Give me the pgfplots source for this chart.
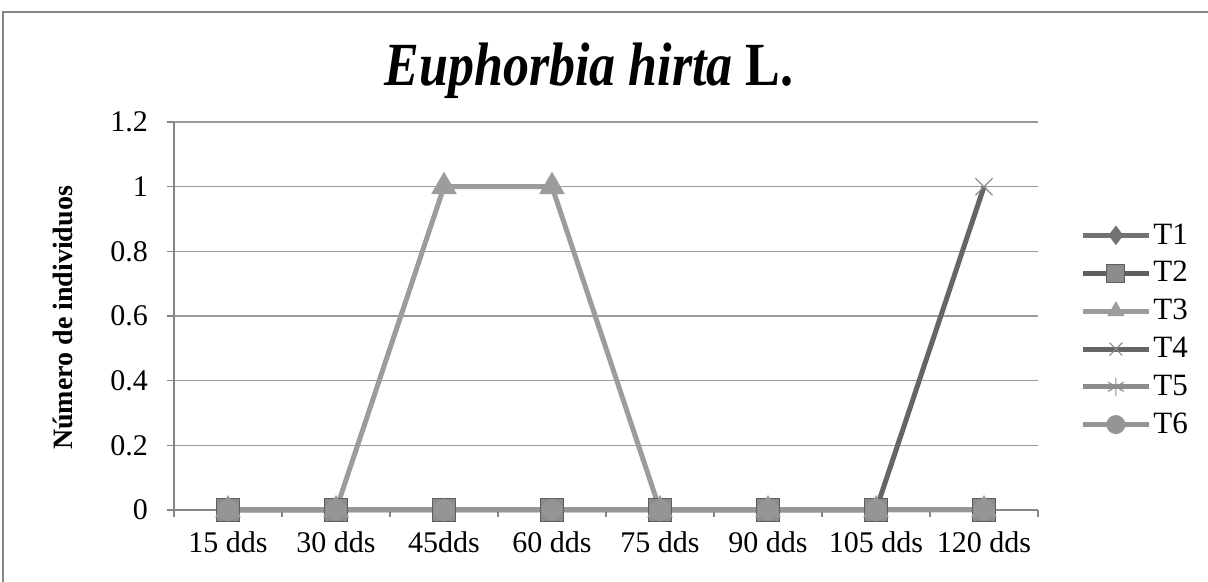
\documentclass[border=0pt]{standalone}
\usepackage{fontspec}
\setmainfont{Liberation Serif}
\usepackage{pgfplots}
\pgfplotsset{compat=1.18}
\definecolor{gridc}{HTML}{9A9A9A}
\definecolor{axc}{HTML}{868686}
\definecolor{cA}{HTML}{727272}
\definecolor{cB}{HTML}{5E5E5E}
\definecolor{cC}{HTML}{9C9C9C}
\definecolor{cD}{HTML}{656565}
\definecolor{cE}{HTML}{8C8C8C}
\definecolor{cF}{HTML}{959595}
\begin{document}
\begin{tikzpicture}
\useasboundingbox (-87pt,-36pt) rectangle (517pt,255pt);
\begin{axis}[
  at={(0pt,0pt)}, anchor=south west,
  scale only axis, width=432pt, height=194pt,
  xmin=-0.5, xmax=7.5, ymin=0, ymax=1.2,
  axis x line*=bottom, axis y line*=left,
  axis line style={axc, line width=0.8pt, -},
  xtick={0,...,7},
  xticklabels={15 dds,30 dds,45dds,60 dds,75 dds,90 dds,105 dds,120 dds},
  major x tick style={draw=none},
  minor xtick={-0.5,0.5,...,7.5},
  minor x tick style={axc, line width=0.8pt},
  minor tick length=3.5pt,
  ytick={0,0.2,0.4,0.6,0.8,1,1.2},
  yticklabels={0,0.2,0.4,0.6,0.8,1,1.2},
  y tick style={axc, line width=0.8pt},
  major tick length=3.5pt,
  tick align=outside,
  ymajorgrids, grid style={gridc, line width=0.8pt},
  ticklabel style={font=\fontsize{15}{17}\selectfont},
  xticklabel style={yshift=-4pt},
  yticklabel style={xshift=-6pt},
  ylabel={\textbf{Número de individuos}},
  ylabel style={font=\fontsize{14}{16}\selectfont, at={(-55.5pt,96pt)}, anchor=center, rotate=0},
  legend style={draw=none, fill=none, at={(1.0486,0.464)}, anchor=west,
     font=\fontsize{15.5}{17}\selectfont, row sep=5.2pt, inner sep=0pt,
     nodes={inner sep=1pt}, cells={anchor=west}},
  legend image code/.code={\draw[mark repeat=2,mark phase=2,#1] plot coordinates {(0pt,0pt)(16.5pt,0pt)(33pt,0pt)};},
  legend image post style={mark size=4.5pt},
  every axis plot/.append style={line width=2.5pt},
  clip=false,
]
\addplot[cA, mark=diamond*, mark size=5.5pt, mark options={solid, fill=cA, draw=cA, line width=0.5pt}]
  coordinates {(0,0)(1,0)(2,0)(3,0)(4,0)(5,0)(6,0)(7,0)};
\addlegendentry{T1}
\addplot[cB, mark=square*, mark size=5.75pt, mark options={solid, fill=cE, draw=cB, line width=0.6pt}]
  coordinates {(0,0)(1,0)(2,0)(3,0)(4,0)(5,0)(6,0)(7,0)};
\addlegendentry{T2}
\addplot[cC, mark=triangle*, mark size=7pt, mark options={solid, fill=cC, draw=cC, line width=0.5pt}]
  coordinates {(0,0)(1,0)(2,1)(3,1)(4,0)(5,0)(6,0)(7,0)};
\addlegendentry{T3}
\addplot[cD, mark=x, mark size=6pt, mark options={solid, draw=cE, line width=0.6pt}]
  coordinates {(0,0)(1,0)(2,0)(3,0)(4,0)(5,0)(6,0)(7,1)};
\addlegendentry{T4}
\addplot[cE, mark=asterisk, mark size=6pt, mark options={solid, draw=cE, line width=0.6pt}]
  coordinates {(0,0)(1,0)(2,0)(3,0)(4,0)(5,0)(6,0)(7,0)};
\addlegendentry{T5}
\addplot[cF, mark=*, mark size=5pt, mark options={solid, fill=cF, draw=cF, line width=0.5pt}]
  coordinates {(0,0)(1,0)(2,0)(3,0)(4,0)(5,0)(6,0)(7,0)};
\addlegendentry{T6}
\end{axis}
\draw[axc, line width=1pt] (-85.5pt,-40pt) -- (-85.5pt,249pt) -- (520pt,249pt);
\node[anchor=base, font=\fontsize{26}{30}\selectfont] at (207.5pt,212pt) {\scalebox{1}[1.18]{\textbf{\textit{Euphorbia hirta} L.}}};
\end{tikzpicture}
\end{document}
